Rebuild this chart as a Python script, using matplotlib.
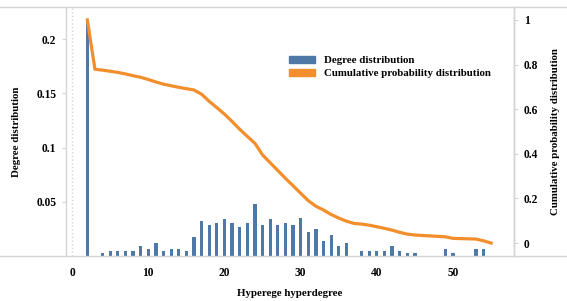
import numpy as np
import matplotlib
matplotlib.use('Agg')
import matplotlib.pyplot as plt
from matplotlib.patches import Patch
from matplotlib.lines import Line2D

# degree distribution (bars), hyperdegree 2..55
degree = np.arange(2, 56)
degree_dist = [0.218, 0.0, 0.0025, 0.0046, 0.0046, 0.0046, 0.0046, 0.0092, 0.0064, 0.0117,
               0.0046, 0.0064, 0.0064, 0.0046, 0.0175, 0.0325, 0.0286, 0.0304, 0.0344, 0.0304,
               0.0264, 0.0304, 0.0476, 0.0286, 0.0344, 0.0286, 0.0307, 0.0286, 0.0346, 0.0218,
               0.0246, 0.0137, 0.0195, 0.0094, 0.0117, 0.0, 0.0046, 0.0046, 0.0046, 0.0046,
               0.0092, 0.0046, 0.0025, 0.0025, 0.0, 0.0, 0.0, 0.0064, 0.0025, 0.0,
               0.0, 0.0064, 0.0064, 0.0]

# cumulative probability distribution (line)
cum_dist = [1.0, 0.779, 0.775, 0.77, 0.765, 0.758, 0.75, 0.743, 0.733, 0.722,
            0.712, 0.705, 0.698, 0.692, 0.686, 0.667, 0.635, 0.607, 0.578, 0.545,
            0.51, 0.478, 0.447, 0.395, 0.36, 0.325, 0.29, 0.257, 0.223, 0.19,
            0.165, 0.148, 0.128, 0.112, 0.098, 0.088, 0.085, 0.08, 0.073, 0.066,
            0.058, 0.048, 0.04, 0.036, 0.034, 0.032, 0.03, 0.028, 0.021, 0.02,
            0.019, 0.018, 0.01, 0.0]

left_ticks = [0.05, 0.1, 0.15, 0.2]
left_labels = ['0.05', '0.1', '0.15', '0.2']
right_ticks = [0, 0.2, 0.4, 0.6, 0.8, 1]
right_labels = ['0', '0.2', '0.4', '0.6', '0.8', '1']
x_ticks = [0, 10, 20, 30, 40, 50]

blue = '#4E79A7'
orange = '#F28E2B'
grey = '#d4d4d4'

plt.rcParams['font.family'] = ['Liberation Serif', 'DejaVu Serif']
plt.rcParams['font.weight'] = 'bold'
plt.rcParams['font.size'] = 7.8

fig = plt.figure(figsize=(5.67, 3.01), dpi=100)
ax = fig.add_axes([66/567, 1-256/301, (514-66)/567, (256-7)/301])
ax.bar(degree, degree_dist, width=0.42, color=blue, zorder=2)
ax.set_xlim(-0.8, 58)
ax.set_ylim(0, 0.2297)
ax.axvline(0, color=grey, linestyle=':', lw=1, zorder=1)
ax.set_yticks(left_ticks)
ax.set_yticklabels(left_labels, fontweight='bold', fontsize=8.3)
ax.set_xticks(x_ticks)
ax.set_xticklabels([str(t) for t in x_ticks], fontweight='bold', fontsize=8.3)
ax.tick_params(axis='x', length=0, pad=8)
ax.tick_params(axis='y', length=3, color=grey, pad=4)
for s in ax.spines.values():
    s.set_color(grey)
    s.set_linewidth(1)
ax.spines['top'].set_visible(False)
ax.spines['bottom'].set_visible(False)
ax.set_ylabel('Degree distribution', fontweight='bold', labelpad=11)
ax.set_xlabel('Hyperege hyperdegree', fontweight='bold', labelpad=7)

ax2 = ax.twinx()
ax2.plot(degree, cum_dist, color=orange, lw=2.3, zorder=3)
ax2.set_ylim(-0.058, 1.058)
ax2.set_yticks(right_ticks)
ax2.set_yticklabels(right_labels, fontweight='bold', fontsize=8.3)
ax2.tick_params(axis='y', length=3, color=grey, pad=4)
for s in ax2.spines.values():
    s.set_visible(False)
ax2.set_ylabel('Cumulative probability distribution', fontweight='bold', labelpad=9)

# full-width frame lines at top and bottom
fig.add_artist(Line2D([0, 1], [1-7/301, 1-7/301], color=grey, lw=1))
fig.add_artist(Line2D([0, 1], [1-256/301, 1-256/301], color=grey, lw=1))
fig.add_artist(Line2D([514/567, 514/567], [1-256/301, 1-7/301], color=grey, lw=1))

handles = [Patch(color=blue, label='Degree distribution'),
           Patch(color=orange, label='Cumulative probability distribution')]
fig.legend(handles=handles, loc='upper left', bbox_to_anchor=(279/567, 1-46/301),
           frameon=False, handlelength=2.4, handleheight=0.65, handletextpad=0.9,
           labelspacing=0.35, prop={'weight': 'bold', 'size': 7.8})

fig.savefig('out.png', dpi=100)
